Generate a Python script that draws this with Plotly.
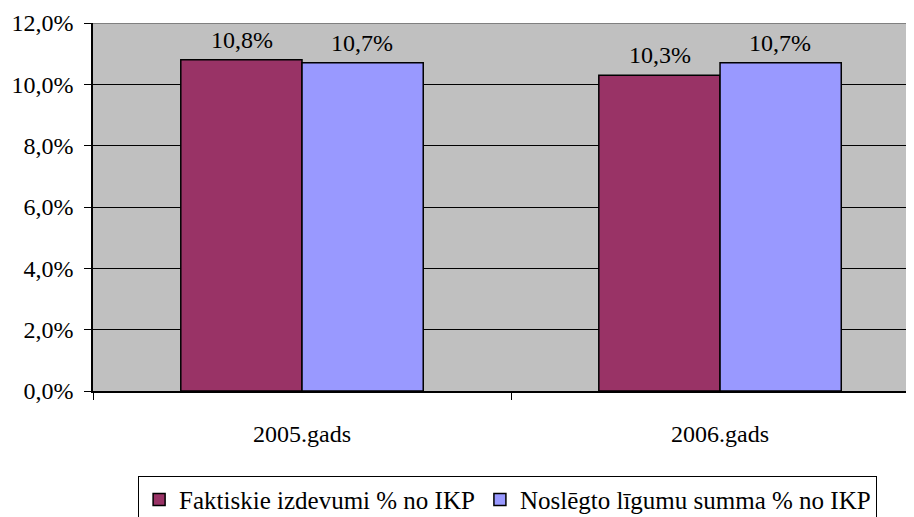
import plotly.graph_objects as go

years = ["2005.gads", "2006.gads"]
faktiskie = [0.108, 0.103]
noslegto = [0.107, 0.107]
series_names = ["Faktiskie izdevumi % no IKP", "Noslēgto līgumu summa % no IKP"]
colors = ["#993366", "#9999FF"]

serif = "'Liberation Serif', 'Times New Roman', Tinos, 'Nimbus Roman', 'DejaVu Serif', serif"
font = dict(family=serif, size=24, color="black")

fig = go.Figure()
for name, vals, col in zip(series_names, [faktiskie, noslegto], colors):
    fig.add_trace(go.Bar(
        x=years, y=vals, name=name,
        marker=dict(color=col, line=dict(color="black", width=1.5)),
    ))

# value labels above bars
for vals, shift in [(faktiskie, -60), (noslegto, 60)]:
    for yr, v in zip(years, vals):
        fig.add_annotation(
            x=yr, y=v, xshift=shift, yshift=5, yanchor="bottom",
            text=f"{v*100:.1f}%".replace(".", ","), showarrow=False, font=font,
        )

# grey top border of the plot area
fig.add_shape(type="line", xref="paper", yref="y", x0=0, x1=1, y0=0.12, y1=0.12,
              line=dict(color="#808080", width=2))

# page body has an 8px margin, so the figure is 8px smaller than the window
fig.update_layout(
    width=906, height=509,
    margin=dict(l=85, r=0, t=15, b=126, autoexpand=False),
    paper_bgcolor="white", plot_bgcolor="#C0C0C0",
    font=font, separators=",.",
    barmode="group", bargap=0.42, bargroupgap=0,
    showlegend=True,
    legend=dict(orientation="h", x=0.505, xanchor="center", y=-0.23, yanchor="top",
                bordercolor="black", borderwidth=1, bgcolor="white",
                font=dict(family=serif, size=25, color="black"),
                itemwidth=30, tracegroupgap=0),
    xaxis=dict(range=[-0.5, 1.464], tickson="boundaries", ticks="outside", ticklen=7,
               tickcolor="black", showline=True, linecolor="black", linewidth=1.5,
               ticklabelstandoff=20, showgrid=False, automargin=False),
    yaxis=dict(range=[0, 0.12], dtick=0.02, tickformat=".1%", ticks="outside", ticklen=7,
               tickcolor="black", showline=True, linecolor="black", linewidth=1.5,
               showgrid=True, gridcolor="black", gridwidth=1, zeroline=False,
               ticklabelstandoff=6, automargin=False),
)

fig.write_html("out.html")
